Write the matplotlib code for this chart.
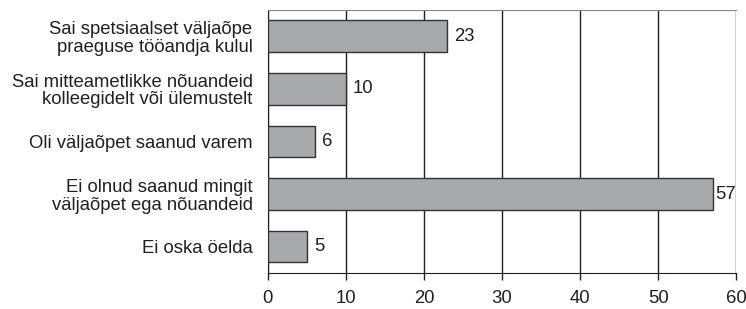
import matplotlib.pyplot as plt

categories = [
    "Sai spetsiaalset väljaõpe\npraeguse tööandja kulul",
    "Sai mitteametlikke nõuandeid\nkolleegidelt või ülemustelt",
    "Oli väljaõpet saanud varem",
    "Ei olnud saanud mingit\nväljaõpet ega nõuandeid",
    "Ei oska öelda",
]
values = [23, 10, 6, 57, 5]
xticks = [0, 10, 20, 30, 40, 50, 60]

plt.rcParams['font.family'] = ['Liberation Sans', 'DejaVu Sans']

fig = plt.figure(figsize=(7.46, 3.09), dpi=100)
ax = fig.add_axes([0.359, 0.1165, 0.628, 0.852])

ypos = list(range(len(categories)))
bars = ax.barh(ypos, values, height=0.6, color='#a7a9ac', edgecolor='#333333', linewidth=1.0, zorder=3)

for y, v in zip(ypos, values):
    pad = 1.5 if v > 55 else 5
    ax.annotate(str(v), (v, y), xytext=(pad, 0), textcoords='offset points',
                ha='left', va='center', fontsize=13.3, color='#231f20')

ax.set_xlim(0, 60)
ax.set_ylim(len(categories) - 0.5, -0.5)
ax.set_yticks(ypos)
ax.set_yticklabels(categories, fontsize=13.3, color='#231f20', linespacing=1.05)
ax.set_xticks(xticks)
ax.set_xticklabels([str(t) for t in xticks], fontsize=13.3, color='#231f20')
ax.tick_params(axis='y', length=0, pad=11)
ax.tick_params(axis='x', length=5, width=1, color='#231f20', pad=7)

ax.xaxis.grid(True, color='#231f20', linewidth=1.0, zorder=0)
ax.spines['top'].set_color('#888888')
ax.spines['right'].set_visible(False)
ax.spines['left'].set_color('#231f20')
ax.spines['bottom'].set_color('#231f20')

fig.savefig('out.png', dpi=100)
